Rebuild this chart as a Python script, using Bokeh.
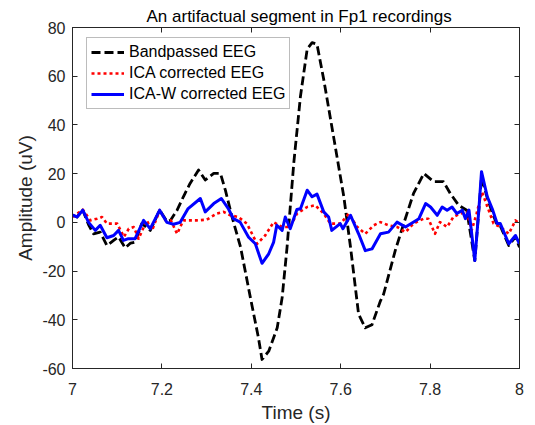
from bokeh.plotting import figure
from bokeh.models import (ColumnDataSource, FixedTicker, CustomJSTickFormatter,
                          LinearAxis, Legend, LegendItem, Range1d)
from bokeh.embed import file_html
from bokeh.resources import INLINE

# ---- data ----
t_bp = [7.000, 7.010, 7.023, 7.036, 7.047, 7.062, 7.077, 7.092, 7.103, 7.118,
        7.130, 7.140, 7.155, 7.174, 7.195, 7.211, 7.219, 7.234, 7.248, 7.263,
        7.282, 7.297, 7.316, 7.331, 7.342, 7.357, 7.376, 7.398, 7.416, 7.424,
        7.439, 7.458, 7.469, 7.480, 7.495, 7.510, 7.525, 7.536, 7.547, 7.562,
        7.584, 7.607, 7.622, 7.640, 7.655, 7.670, 7.689, 7.696, 7.722, 7.741,
        7.763, 7.786, 7.808, 7.830, 7.845, 7.864, 7.882, 7.900, 7.909, 7.915,
        7.928, 7.939, 7.950, 7.957, 7.976, 7.991, 8.000]
v_bp = [3.0, 2.2, 5.0, -1.0, -4.7, -4.0, -9.5, -7.4, -6.0, -10.5,
        -8.5, -8.1, -0.5, -3.3, 5.0, 0.5, 0.8, 5.0, 10.5, 16.0,
        21.5, 17.4, 20.1, 20.1, 13.2, 2.2, -10.2, -30.9, -47.4, -56.3,
        -52.9, -43.3, -30.9, -10.2, 24.3, 51.8, 71.1, 73.8, 73.1, 58.7,
        35.2, 10.5, -10.2, -37.7, -43.3, -42.0, -32.2, -29.5, -11.6, -0.5,
        11.9, 20.1, 16.7, 16.7, 11.9, 7.0, 5.0, -15.7, 5.0, 18.5,
        10.0, 4.0, -1.0, -1.5, -9.5, -6.0, -10.2]

t_ica = [7.000, 7.023, 7.040, 7.055, 7.066, 7.077, 7.100, 7.115, 7.126, 7.137,
         7.148, 7.166, 7.178, 7.195, 7.208, 7.220, 7.234, 7.248, 7.260, 7.278,
         7.300, 7.323, 7.338, 7.353, 7.371, 7.390, 7.413, 7.431, 7.450, 7.469,
         7.487, 7.502, 7.525, 7.543, 7.562, 7.577, 7.600, 7.618, 7.637, 7.655,
         7.674, 7.689, 7.707, 7.726, 7.745, 7.763, 7.785, 7.796, 7.811, 7.822,
         7.838, 7.852, 7.867, 7.882, 7.893, 7.904, 7.916, 7.927, 7.942, 7.957,
         7.976, 7.991, 8.000]
v_ica = [2.2, 5.2, 0.8, 1.5, 2.2, -0.5, -0.5, -6.0, -2.6, -1.9,
         -6.7, 0.8, -3.3, 5.0, 0.8, 0.8, -4.7, 0.8, 0.8, 0.8,
         1.1, 3.6, 4.3, 2.9, 2.2, -0.5, -8.8, -5.4, 0.1, -1.9,
         -1.9, 3.6, 6.3, 7.0, 3.6, -0.5, -0.5, 3.6, -1.9, -4.7,
         -1.2, 0.1, -1.2, -1.9, -4.0, -0.5, 1.5, 1.5, -4.7, 0.1,
         -1.9, 2.2, 3.6, 4.3, -3.3, 3.6, 12.5, 7.0, -0.5, -1.9,
         -4.7, 0.8, -0.5]

t_icaw = [7.000, 7.010, 7.023, 7.036, 7.051, 7.062, 7.077, 7.092, 7.103, 7.114,
          7.125, 7.140, 7.159, 7.174, 7.195, 7.211, 7.226, 7.241, 7.258, 7.286,
          7.297, 7.316, 7.333, 7.349, 7.360, 7.375, 7.394, 7.409, 7.424, 7.439,
          7.450, 7.457, 7.469, 7.476, 7.487, 7.502, 7.510, 7.525, 7.536, 7.547,
          7.562, 7.573, 7.580, 7.599, 7.605, 7.622, 7.640, 7.655, 7.670, 7.689,
          7.707, 7.726, 7.745, 7.775, 7.790, 7.801, 7.816, 7.827, 7.838, 7.849,
          7.860, 7.872, 7.879, 7.887, 7.900, 7.909, 7.915, 7.928, 7.939, 7.950,
          7.957, 7.976, 7.991, 8.000]
v_icaw = [3.0, 2.2, 5.0, 0.0, -3.3, -1.2, -6.3, -5.4, -3.3, -7.4,
          -6.7, -6.7, 0.8, -2.6, 5.0, 0.0, -0.8, 0.0, 5.5, 9.8,
          4.3, 7.7, 9.8, 5.5, 1.5, 0.1, -6.1, -8.8, -16.8, -12.9,
          -8.1, -1.2, -3.3, 2.2, -2.6, 5.3, 5.6, 13.2, 10.5, 11.6,
          4.3, 2.2, -3.3, -0.5, -2.6, 2.9, -4.7, -11.6, -10.9, -4.7,
          -4.0, 0.1, -1.9, 1.5, 7.7, 6.3, 2.9, 6.3, 5.0, 6.3,
          3.6, 5.0, 1.5, 5.0, -15.7, 5.0, 20.8, 10.5, 5.6, -0.5,
          -0.5, -8.8, -5.4, -8.8]

series_names = ["Bandpassed EEG", "ICA corrected EEG", "ICA-W corrected EEG"]
x_ticks = [7, 7.2, 7.4, 7.6, 7.8, 8]
y_ticks = [-60, -40, -20, 0, 20, 40, 60, 80]

title_text = "An artifactual segment in Fp1 recordings"
x_label = "Time (s)"
y_label = "Amplitude (uV)"

FONT = "Liberation Sans"
TXT = "#262626"

p = figure(width=527, height=425, output_backend="svg", toolbar_location=None,
           x_range=Range1d(7, 8), y_range=Range1d(-60, 80),
           min_border_left=72, min_border_right=8, min_border_top=27,
           min_border_bottom=57, background_fill_color="white",
           border_fill_color="white")
p.title.text = title_text
p.title.align = "left"
p.title.vertical_align = "top"
p.title.text_font = FONT
p.title.text_font_size = "17px"
p.title.text_font_style = "normal"
p.title.text_color = "black"
p.title.standoff = 0
p.title.offset = 74

p.xgrid.visible = False
p.ygrid.visible = False
p.outline_line_color = TXT
p.outline_line_width = 1

fmt = CustomJSTickFormatter(code="return Number(tick.toFixed(1)).toString();")
blank = CustomJSTickFormatter(code="return '';")

for ax, ticks in ((p.xaxis[0], x_ticks), (p.yaxis[0], y_ticks)):
    ax.ticker = FixedTicker(ticks=ticks)
    ax.major_tick_in = 5
    ax.major_tick_out = 0
    ax.minor_tick_in = 0
    ax.minor_tick_out = 0
    ax.axis_line_color = TXT
    ax.major_tick_line_color = TXT
    ax.major_label_text_font = FONT
    ax.major_label_text_font_size = "16px"
    ax.major_label_text_color = TXT
    ax.axis_label_text_font = FONT
    ax.axis_label_text_font_size = "19px"
    ax.axis_label_text_font_style = "normal"
    ax.axis_label_text_color = TXT
p.xaxis[0].formatter = fmt
p.yaxis[0].formatter = fmt
p.xaxis[0].axis_label = x_label
p.yaxis[0].axis_label = y_label
p.xaxis[0].major_label_standoff = 14
p.xaxis[0].axis_label_standoff = 4
p.yaxis[0].major_label_standoff = 7
p.yaxis[0].axis_label_standoff = 3

# mirrored tick marks on top and right (no labels)
top = LinearAxis(ticker=FixedTicker(ticks=x_ticks), formatter=blank,
                 major_tick_in=5, major_tick_out=0, minor_tick_in=0, minor_tick_out=0,
                 major_label_standoff=5, axis_line_color=TXT, major_tick_line_color=TXT)
right = LinearAxis(ticker=FixedTicker(ticks=y_ticks), formatter=blank,
                   major_tick_in=5, major_tick_out=0, minor_tick_in=0, minor_tick_out=0,
                   major_label_standoff=0, axis_line_color=TXT, major_tick_line_color=TXT)
p.add_layout(top, "above")
p.add_layout(right, "right")

src_bp = ColumnDataSource(dict(t=t_bp, v=v_bp))
src_ica = ColumnDataSource(dict(t=t_ica, v=v_ica))
src_icaw = ColumnDataSource(dict(t=t_icaw, v=v_icaw))

r_bp = p.line("t", "v", source=src_bp, line_color="black", line_width=2.8,
              line_dash="9 4", line_join="round")
r_ica = p.line("t", "v", source=src_ica, line_color="#ff0000", line_width=2.6,
               line_dash="3 3", line_join="round")
r_icaw = p.line("t", "v", source=src_icaw, line_color="#0000ff", line_width=3,
                line_join="round")

legend = Legend(items=[LegendItem(label=series_names[0], renderers=[r_bp]),
                       LegendItem(label=series_names[1], renderers=[r_ica]),
                       LegendItem(label=series_names[2], renderers=[r_icaw])],
                location=(14, 259), orientation="vertical",
                label_text_font=FONT, label_text_font_size="16px",
                label_text_color="black", glyph_width=33, glyph_height=18,
                label_height=20, label_standoff=5, spacing=1, padding=4, margin=0,
                border_line_color="#7a7a7a", border_line_width=1,
                background_fill_color="white", background_fill_alpha=1)
p.add_layout(legend, "center")

open("out.html", "w").write(file_html(p, INLINE))
